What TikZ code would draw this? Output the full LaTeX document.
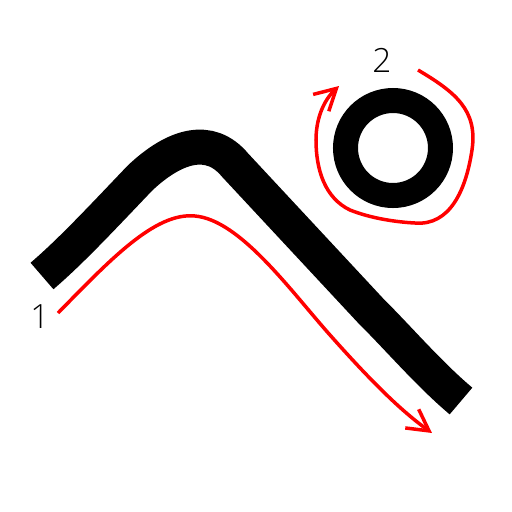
\documentclass[tikz,border=0pt]{standalone}
\usepackage{fontspec}
\setmainfont{Open Sans Light}
\usetikzlibrary{arrows.meta}

\begin{document}
\begin{tikzpicture}[x=0.02cm, y=-0.02cm,
    bar/.style={line width=0.7cm},
    redarrow/.style={red, line width=0.07cm, -{Straight Barb[length=0.42cm, width=0.46cm]}},
    lbl/.style={font=\fontsize{19}{19}\selectfont}]
    % Frame of the picture
    \useasboundingbox (0,0) rectangle (512,512);

    % The bent bar
    \draw[bar] (42,276) .. controls (70,252) and (100,220) .. (140,178)
        .. controls (175,145) and (210,135) .. (235,165)
        -- (370,310) .. controls (400,340) and (430,375) .. (461,401);

    % The ring
    \draw[line width=0.5cm] (393,148) circle (47.5);

    % Red arrows
    \draw[redarrow] (58,313) .. controls (110,260) and (155,212) .. (195,216)
        .. controls (240,220) and (290,290) .. (330,335)
        .. controls (370,380) and (400,410) .. (432,433);
    \draw[redarrow] (418,70) .. controls (455,92) and (478,110) .. (472,150)
        .. controls (466,190) and (450,226) .. (415,223)
        .. controls (395,222) and (370,218) .. (350,210)
        .. controls (325,198) and (316,170) .. (316,140)
        .. controls (316,118) and (324,100) .. (339,86);

    % Labels
    \node[lbl] (one) at (40,317) {1};
    \node[lbl] (two) at (382,60) {2};

\end{tikzpicture}
\end{document}
